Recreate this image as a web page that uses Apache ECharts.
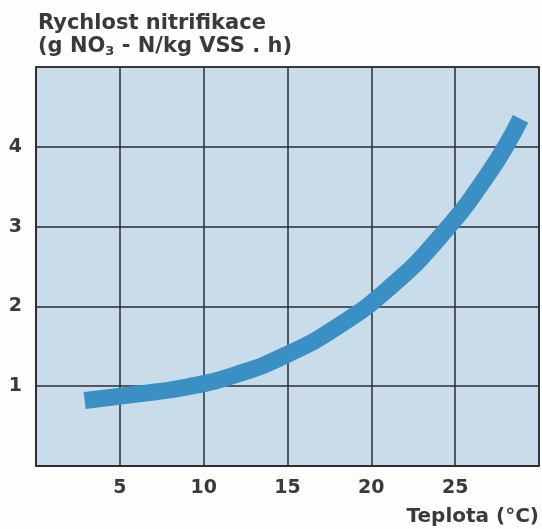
<!DOCTYPE html>
<html>
<head>
<meta charset="utf-8">
<script src="https://cdn.jsdelivr.net/npm/echarts@6/dist/echarts.min.js"></script>
<style>
html, body { margin: 0; padding: 0; background: #fdfdfc; }
#mainChart { width: 542px; height: 529px; }
</style>
</head>
<body>
<div id="mainChart"></div>
<script>
// teplota (°C) a rychlost nitrifikace
var tempC = [2.9, 6, 9, 12, 15, 18, 21, 24, 27, 28.9];
var rate = [0.82, 0.9, 0.99, 1.15, 1.4, 1.75, 2.22, 2.85, 3.67, 4.35];
var xTicks = [5, 10, 15, 20, 25];
var yTicks = [1, 2, 3, 4];

var points = [];
for (var i = 0; i < tempC.length; i++) {
    points.push([tempC[i], rate[i]]);
}

var textColor = '#3a3a3a';
var gridColor = '#2b2b33';
var font = 'DejaVu Sans';

var myChart = echarts.init(document.getElementById('mainChart'));
myChart.setOption({
    animation: false,
    title: {
        left: 33,
        top: 7,
        text: '{a|Rychlost nitrifikace}\n{a|(g NO}{s|3}{a| - N/kg VSS . h)}',
        textStyle: {
            rich: {
                a: {fontFamily: font, fontWeight: 'bold', fontSize: 21, color: textColor, lineHeight: 23},
                s: {fontFamily: font, fontWeight: 'bold', fontSize: 13, color: textColor, verticalAlign: 'bottom', lineHeight: 19}
            }
        }
    },
    grid: {
        left: 36,
        right: 1,
        top: 67,
        bottom: 63,
        show: true,
        backgroundColor: '#c9dce9',
        borderColor: gridColor,
        borderWidth: 1.5
    },
    xAxis: {
        type: 'value',
        min: 0,
        max: 30,
        interval: 5,
        name: 'Teplota (°C)',
        nameLocation: 'end',
        nameGap: 0,
        nameTextStyle: {
            fontFamily: font, fontWeight: 'bold', fontSize: 20, color: textColor,
            align: 'right', verticalAlign: 'top', padding: [41, 0, 0, 0]
        },
        axisLine: {lineStyle: {color: gridColor, width: 1.5}},
        axisTick: {show: false},
        axisLabel: {
            margin: 13,
            fontFamily: font, fontWeight: 'bold', fontSize: 19, color: textColor,
            formatter: function (v) { return xTicks.indexOf(v) >= 0 ? String(v) : ''; }
        },
        splitLine: {lineStyle: {color: gridColor, width: 1.5}}
    },
    yAxis: {
        type: 'value',
        min: 0,
        max: 5,
        interval: 1,
        axisLine: {show: true, lineStyle: {color: gridColor, width: 1.5}},
        axisTick: {show: false},
        axisLabel: {
            margin: 14,
            fontFamily: font, fontWeight: 'bold', fontSize: 19, color: textColor,
            formatter: function (v) { return yTicks.indexOf(v) >= 0 ? String(v) : ''; }
        },
        splitLine: {lineStyle: {color: gridColor, width: 1.5}}
    },
    series: [{
        type: 'line',
        data: points,
        smooth: true,
        symbol: 'none',
        lineStyle: {color: '#3a8fc5', width: 17, cap: 'butt'}
    }]
});
</script>
</body>
</html>
